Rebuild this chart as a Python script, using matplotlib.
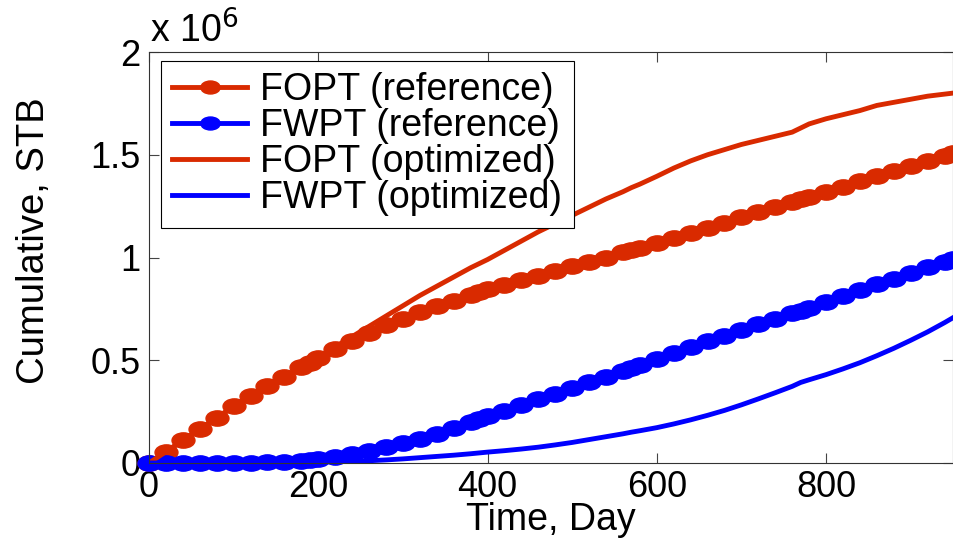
import matplotlib
matplotlib.use("Agg")
import matplotlib.pyplot as plt
from matplotlib.path import Path
from matplotlib.transforms import Affine2D
from matplotlib.ticker import FuncFormatter

plt.rcParams['font.family'] = ['Liberation Sans', 'DejaVu Sans']

# time, days
days = [0, 20, 40, 60, 80, 100, 120, 140, 160, 180, 190, 200, 220, 240, 260, 280,
        300, 320, 340, 360, 380, 390, 400, 420, 440, 460, 480, 500, 520, 540, 560,
        570, 580, 600, 620, 640, 660, 680, 700, 720, 740, 760, 770, 780, 800, 820,
        840, 860, 880, 900, 920, 940, 950]

# cumulative volumes, millions of STB
fopt_ref = [0, 0.055, 0.11, 0.165, 0.22, 0.275, 0.325, 0.375, 0.42, 0.465, 0.488, 0.51,
            0.555, 0.595, 0.635, 0.67, 0.70, 0.735, 0.765, 0.79, 0.818, 0.83, 0.845,
            0.867, 0.89, 0.912, 0.935, 0.957, 0.98, 1.0, 1.025, 1.035, 1.047, 1.07,
            1.095, 1.12, 1.145, 1.17, 1.195, 1.22, 1.245, 1.27, 1.283, 1.295, 1.32,
            1.345, 1.37, 1.395, 1.42, 1.445, 1.47, 1.495, 1.51]
fwpt_ref = [0, 0, 0, 0, 0, 0.001, 0.002, 0.003, 0.006, 0.011, 0.014, 0.018, 0.031,
            0.045, 0.06, 0.077, 0.096, 0.118, 0.143, 0.17, 0.198, 0.212, 0.227, 0.255,
            0.283, 0.31, 0.337, 0.364, 0.392, 0.42, 0.449, 0.463, 0.478, 0.507, 0.535,
            0.564, 0.592, 0.62, 0.648, 0.675, 0.702, 0.728, 0.742, 0.756, 0.785, 0.813,
            0.841, 0.869, 0.897, 0.925, 0.953, 0.98, 0.995]
fopt_opt = [0, 0.055, 0.11, 0.165, 0.22, 0.275, 0.325, 0.375, 0.42, 0.465, 0.49, 0.515,
            0.565, 0.615, 0.665, 0.715, 0.765, 0.815, 0.86, 0.905, 0.95, 0.97, 0.99,
            1.035, 1.08, 1.125, 1.165, 1.205, 1.245, 1.285, 1.32, 1.34, 1.357, 1.395,
            1.435, 1.47, 1.50, 1.525, 1.55, 1.57, 1.59, 1.61, 1.63, 1.65, 1.675, 1.695,
            1.715, 1.74, 1.755, 1.77, 1.785, 1.795, 1.80]
fwpt_opt = [0, 0, 0, 0, 0, 0, 0, 0.001, 0.001, 0.002, 0.002, 0.003, 0.005, 0.008, 0.011,
            0.015, 0.02, 0.026, 0.032, 0.038, 0.045, 0.049, 0.053, 0.06, 0.068, 0.077,
            0.088, 0.1, 0.114, 0.128, 0.142, 0.15, 0.157, 0.172, 0.19, 0.21, 0.232,
            0.256, 0.283, 0.312, 0.342, 0.373, 0.392, 0.405, 0.43, 0.458, 0.488, 0.522,
            0.558, 0.597, 0.638, 0.683, 0.707]

labels = ['FOPT (reference)', 'FWPT (reference)', 'FOPT (optimized)', 'FWPT (optimized)']
red = '#D92A00'
blue = '#0000FF'

# wide ellipse marker, like the stretched circles of the picture
oval = Path.unit_circle().transformed(Affine2D().scale(1.5, 1.0))

fig = plt.figure(figsize=(9.54, 5.40), dpi=100)
ax = fig.add_axes([149 / 954, 77 / 540, 804 / 954, 411 / 540])

scale = 1e6
ax.plot(days, [v * scale for v in fopt_ref], color=red, lw=3.5, marker=oval, ms=16.5,
        mec=red, mfc=red, label=labels[0], clip_on=False)
ax.plot(days, [v * scale for v in fwpt_ref], color=blue, lw=3.5, marker=oval, ms=16.5,
        mec=blue, mfc=blue, label=labels[1], clip_on=False)
ax.plot(days, [v * scale for v in fopt_opt], color=red, lw=3.5, label=labels[2])
ax.plot(days, [v * scale for v in fwpt_opt], color=blue, lw=3.5, label=labels[3])

ax.set_xlim(0, 950)
ax.set_ylim(0, 2e6)
ax.set_xticks([0, 200, 400, 600, 800])
ax.set_yticks([0, 0.5e6, 1e6, 1.5e6, 2e6])
ax.yaxis.set_major_formatter(FuncFormatter(lambda v, p: '%g' % (v / scale)))

ax.tick_params(direction='in', length=7, width=0.8, color='#444444',
               top=True, right=True, labelsize=26)
ax.tick_params(axis='x', pad=5)
ax.tick_params(axis='y', pad=6)
for s in ax.spines.values():
    s.set_linewidth(0.8)
    s.set_color('#333333')

ax.set_xlabel('Time, Day', fontsize=27, labelpad=-2)
ax.set_ylabel('Cumulative, STB', fontsize=27.5)
ax.yaxis.set_label_coords(-97 / 804, (463 - 241) / 411)

fig.text(150 / 954, 1 - 43 / 540, r'x 10$^{6}$', fontsize=27, va='baseline', ha='left')

leg = ax.legend(loc='upper left', bbox_to_anchor=(161 / 954, 1 - 61 / 540),
                bbox_transform=fig.transFigure, borderaxespad=0, fontsize=27,
                numpoints=1, handlelength=2.0, handletextpad=0.35,
                labelspacing=0.0, borderpad=0.3, fancybox=False, framealpha=1)
leg.get_frame().set_edgecolor('black')
leg.get_frame().set_linewidth(0.8)
for h in leg.legend_handles:
    h.set_markersize(14)

fig.savefig('out.png', dpi=100)
